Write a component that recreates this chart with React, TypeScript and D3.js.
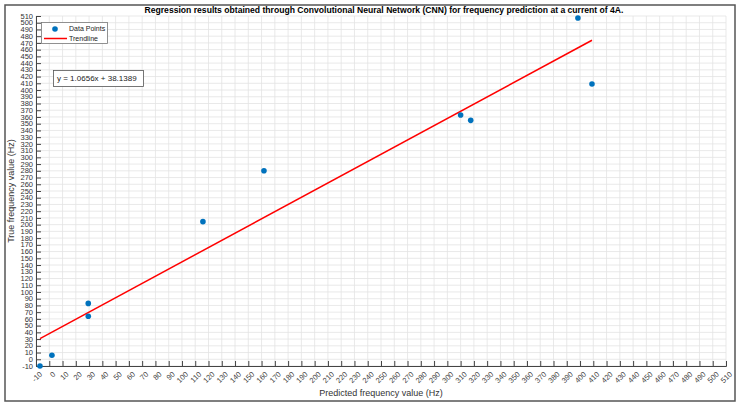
import React, { useEffect, useRef } from 'react'
import * as d3 from 'd3'

// values
const predicted = [-7, 2, 29.4, 29.4, 115.8, 161.8, 310, 317.6, 398.4, 409]
const actual = [-10, 6, 83, 64, 204.5, 280, 363, 355, 507, 409]
const slope = 1.0656
const intercept = 38.1389
const tickValues = d3.range(-10, 511, 10)

const W = 741
const H = 408
const MARGIN = { LEFT: 36, RIGHT: 15, TOP: 16, BOTTOM: 42 }
const FONT = '"Liberation Sans", Arial, sans-serif'

export default function App() {
  const ref = useRef<SVGSVGElement>(null)

  useEffect(() => {
    const svg = d3.select(ref.current)
    svg.selectAll('*').remove()

    const x = d3.scaleLinear().domain([-10, 510]).range([MARGIN.LEFT, W - MARGIN.RIGHT])
    const y = d3.scaleLinear().domain([-10, 510]).range([H - MARGIN.BOTTOM, MARGIN.TOP])
    const [x0, x1] = x.range()
    const [yb, yt] = y.range()

    // figure frame
    svg.append('rect')
      .attr('x', 5).attr('y', 5).attr('width', 730).attr('height', 396)
      .attr('fill', 'white').attr('stroke', '#555').attr('stroke-width', 1.5)

    // grid
    const grid = svg.append('g').attr('stroke', '#e3e3e3').attr('stroke-width', 0.8)
    tickValues.forEach(v => {
      grid.append('line').attr('x1', x(v)).attr('x2', x(v)).attr('y1', yb).attr('y2', yt)
      grid.append('line').attr('x1', x0).attr('x2', x1).attr('y1', y(v)).attr('y2', y(v))
    })

    // axes, inward ticks
    const xAxis = svg.append('g')
      .attr('transform', `translate(0, ${yb})`)
      .call(d3.axisTop(x).tickValues(tickValues).tickSize(5).tickFormat(() => ''))
    xAxis.select('.domain').attr('stroke', '#444')
    xAxis.selectAll('.tick line').attr('stroke', '#444')

    const yAxis = svg.append('g')
      .attr('transform', `translate(${x0}, 0)`)
      .call(d3.axisRight(y).tickValues(tickValues).tickSize(5).tickFormat(() => ''))
    yAxis.select('.domain').attr('stroke', '#444')
    yAxis.selectAll('.tick line').attr('stroke', '#444')

    // tick labels
    svg.append('g').selectAll('text').data(tickValues).join('text')
      .attr('transform', d => `translate(${x(d) + 3}, ${yb + 5}) rotate(-45)`)
      .attr('text-anchor', 'end')
      .attr('dy', '0.7em')
      .attr('font-family', FONT).attr('font-size', 7.5).attr('fill', '#444')
      .text(d => d)

    svg.append('g').selectAll('text').data(tickValues).join('text')
      .attr('x', x0 - 3).attr('y', d => y(d))
      .attr('dy', '0.35em')
      .attr('text-anchor', 'end')
      .attr('font-family', FONT).attr('font-size', 7.5).attr('fill', '#333')
      .text(d => d)

    // axis titles
    svg.append('text')
      .attr('x', (x0 + x1) / 2).attr('y', 396)
      .attr('text-anchor', 'middle')
      .attr('font-family', FONT).attr('font-size', 9).attr('fill', '#333')
      .text('Predicted frequency value (Hz)')

    svg.append('text')
      .attr('transform', `translate(14, ${(yb + yt) / 2}) rotate(-90)`)
      .attr('text-anchor', 'middle')
      .attr('font-family', FONT).attr('font-size', 9).attr('fill', '#333')
      .text('True frequency value (Hz)')

    // title
    svg.append('text')
      .attr('x', 384).attr('y', 13)
      .attr('text-anchor', 'middle')
      .attr('font-family', FONT).attr('font-size', 8.6).attr('font-weight', 'bold')
      .attr('fill', '#000')
      .text('Regression results obtained through Convolutional Neural Network (CNN) for frequency prediction at a current of 4A.')

    // trendline
    const xr = d3.extent(predicted) as [number, number]
    const line = d3.line<number>().x(d => x(d)).y(d => y(slope * d + intercept))
    svg.append('path')
      .attr('d', line(xr))
      .attr('fill', 'none').attr('stroke', '#ff0000').attr('stroke-width', 1.5)

    // data points
    svg.append('g').selectAll('circle').data(predicted).join('circle')
      .attr('cx', d => x(d))
      .attr('cy', (d, i) => y(actual[i]))
      .attr('r', 2.8)
      .attr('fill', '#0072BD')

    // legend
    const lg = svg.append('g')
    lg.append('rect')
      .attr('x', 41.5).attr('y', 22.5).attr('width', 66).attr('height', 21)
      .attr('fill', 'white').attr('stroke', '#777').attr('stroke-width', 0.8)
    lg.append('circle').attr('cx', 55).attr('cy', 29).attr('r', 2.8).attr('fill', '#0072BD')
    lg.append('line').attr('x1', 44).attr('x2', 67).attr('y1', 38.5).attr('y2', 38.5)
      .attr('stroke', '#ff0000').attr('stroke-width', 1.5)
    lg.append('text').attr('x', 69).attr('y', 29).attr('dy', '0.35em')
      .attr('font-family', FONT).attr('font-size', 7).attr('fill', '#222').text('Data Points')
    lg.append('text').attr('x', 69).attr('y', 38.5).attr('dy', '0.35em')
      .attr('font-family', FONT).attr('font-size', 7).attr('fill', '#222').text('Trendline')

    // equation box
    svg.append('rect')
      .attr('x', 53.5).attr('y', 70.5).attr('width', 90).attr('height', 16)
      .attr('fill', 'white').attr('stroke', '#555').attr('stroke-width', 0.8)
    svg.append('text')
      .attr('x', 57).attr('y', 78.5).attr('dy', '0.35em')
      .attr('font-family', FONT).attr('font-size', 8).attr('fill', '#222')
      .text(`y = ${slope.toFixed(4)}x + ${intercept.toFixed(4)}`)
  }, [])

  return (
    <svg ref={ref} width={W} height={H}
      style={{ position: 'absolute', left: 0, top: 0, background: 'white' }} />
  )
}
